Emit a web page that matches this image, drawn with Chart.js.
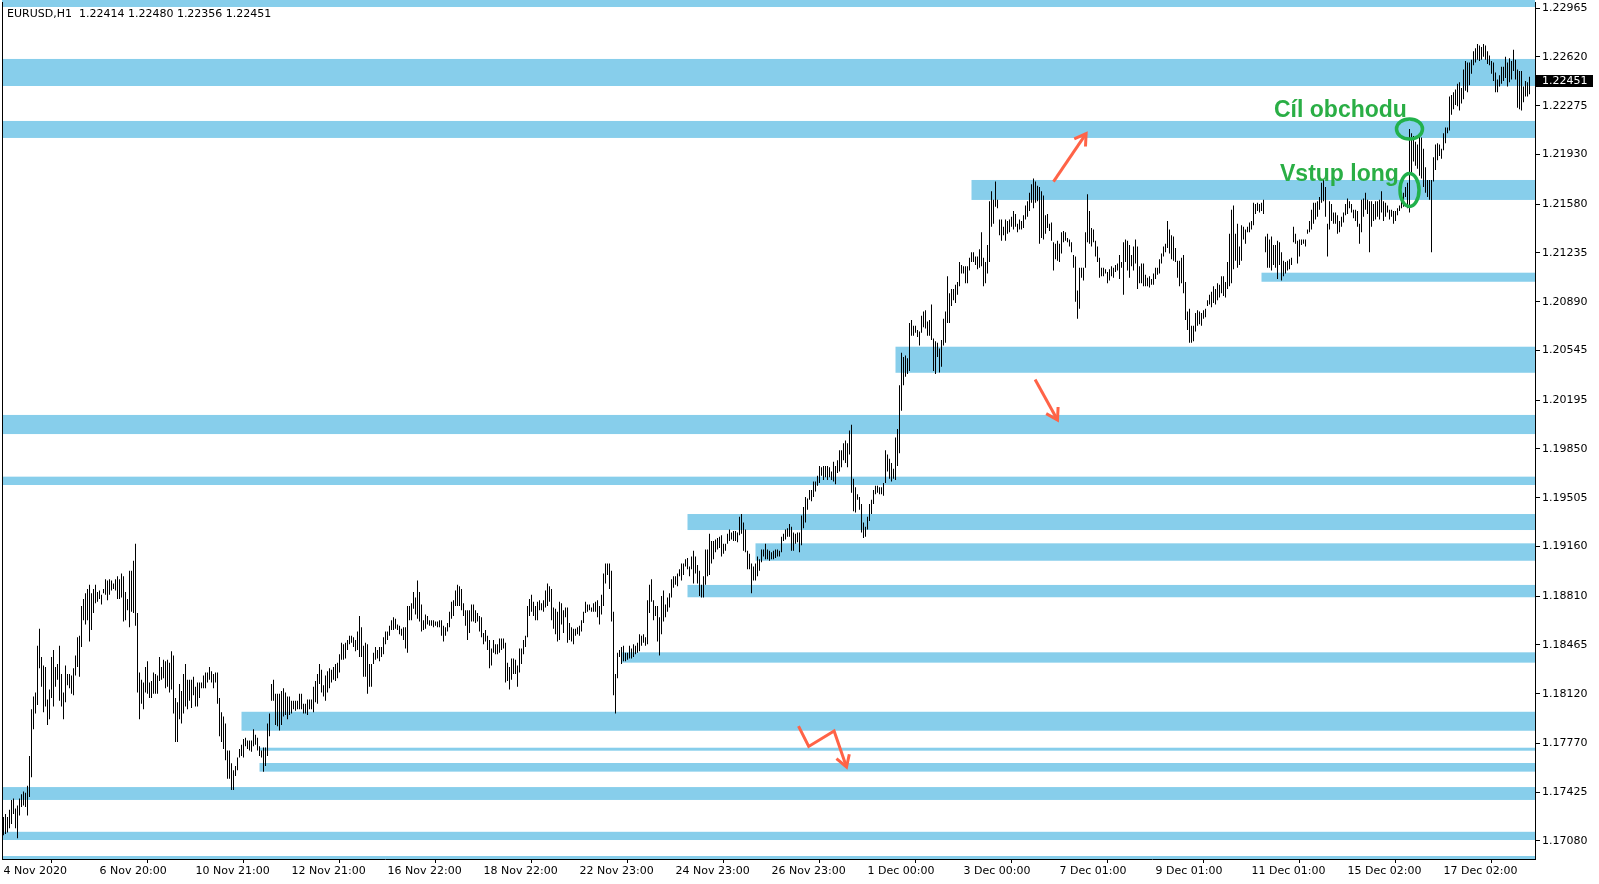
<!DOCTYPE html>
<html>
<head>
<meta charset="utf-8">
<script src="https://cdn.jsdelivr.net/npm/chart.js@4.4.1/dist/chart.umd.min.js"></script>
<style>
html, body { margin: 0; padding: 0; background: #fff; overflow: hidden; }
#wrap { width: 1599px; height: 884px; position: relative; }
</style>
</head>
<body>
<div id="wrap"><canvas id="chart"></canvas></div>
<script>
// EURUSD H1, one bar per hour, high / low
const highs = [
1.1725,1.1727,1.1725,1.1730,1.1737,1.1738,1.1731,1.1733,1.1738,1.1741,
1.1743,1.1742,1.1747,1.1768,1.1801,1.1810,1.1813,1.1846,1.1858,1.1838,
1.1832,1.1831,1.1808,1.1815,1.1838,1.1843,1.1831,1.1833,1.1846,1.1826,
1.1813,1.1832,1.1826,1.1826,1.1825,1.1830,1.1839,1.1852,1.1853,1.1874,
1.1879,1.1883,1.1886,1.1889,1.1883,1.1886,1.1889,1.1884,1.1885,1.1882,
1.1886,1.1893,1.1892,1.1893,1.1892,1.1890,1.1893,1.1895,1.1893,1.1897,
1.1895,1.1884,1.1879,1.1899,1.1899,1.1906,1.1918,1.1869,1.1827,1.1822,
1.1820,1.1831,1.1835,1.1820,1.1821,1.1827,1.1826,1.1825,1.1838,1.1831,
1.1836,1.1835,1.1836,1.1834,1.1842,1.1839,1.1809,1.1806,1.1819,1.1814,
1.1826,1.1833,1.1822,1.1822,1.1822,1.1824,1.1817,1.1820,1.1820,1.1820,
1.1825,1.1827,1.1827,1.1831,1.1828,1.1826,1.1827,1.1827,1.1809,1.1799,
1.1796,1.1791,1.1772,1.1772,1.1763,1.1758,1.1761,1.1767,1.1773,1.1776,
1.1780,1.1781,1.1779,1.1779,1.1779,1.1787,1.1783,1.1781,1.1775,1.1772,
1.1774,1.1774,1.1791,1.1798,1.1819,1.1822,1.1812,1.1812,1.1812,1.1814,
1.1816,1.1813,1.1810,1.1810,1.1807,1.1807,1.1807,1.1807,1.1812,1.1812,
1.1805,1.1805,1.1808,1.1808,1.1808,1.1817,1.1821,1.1826,1.1833,1.1829,
1.1818,1.1825,1.1828,1.1830,1.1829,1.1831,1.1833,1.1834,1.1840,1.1848,
1.1847,1.1848,1.1850,1.1853,1.1853,1.1852,1.1850,1.1856,1.1867,1.1859,
1.1846,1.1848,1.1847,1.1833,1.1833,1.1841,1.1845,1.1843,1.1845,1.1845,
1.1852,1.1856,1.1856,1.1860,1.1864,1.1866,1.1865,1.1861,1.1860,1.1858,
1.1859,1.1859,1.1874,1.1874,1.1876,1.1884,1.1880,1.1892,1.1884,1.1875,
1.1864,1.1868,1.1867,1.1864,1.1864,1.1864,1.1863,1.1863,1.1864,1.1864,
1.1860,1.1859,1.1862,1.1870,1.1877,1.1878,1.1885,1.1889,1.1888,1.1886,
1.1876,1.1871,1.1871,1.1871,1.1875,1.1875,1.1871,1.1869,1.1867,1.1866,
1.1855,1.1857,1.1853,1.1850,1.1844,1.1850,1.1847,1.1847,1.1851,1.1851,
1.1851,1.1848,1.1834,1.1831,1.1837,1.1837,1.1836,1.1832,1.1844,1.1844,
1.1850,1.1853,1.1874,1.1879,1.1882,1.1877,1.1874,1.1877,1.1878,1.1876,
1.1878,1.1885,1.1890,1.1888,1.1886,1.1873,1.1872,1.1870,1.1877,1.1876,
1.1871,1.1873,1.1873,1.1862,1.1859,1.1858,1.1858,1.1859,1.1860,1.1864,
1.1870,1.1877,1.1875,1.1875,1.1873,1.1876,1.1877,1.1878,1.1874,1.1882,
1.1897,1.1904,1.1904,1.1904,1.1899,1.1870,1.1826,1.1841,1.1843,1.1845,
1.1846,1.1841,1.1841,1.1846,1.1844,1.1847,1.1846,1.1848,1.1854,1.1853,
1.1854,1.1852,1.1878,1.1889,1.1893,1.1878,1.1874,1.1874,1.1866,1.1881,
1.1885,1.1875,1.1880,1.1883,1.1893,1.1895,1.1895,1.1897,1.1900,1.1904,
1.1904,1.1907,1.1908,1.1902,1.1909,1.1913,1.1909,1.1903,1.1899,1.1889,
1.1895,1.1914,1.1914,1.1925,1.1920,1.1920,1.1921,1.1922,1.1923,1.1924,
1.1918,1.1918,1.1925,1.1928,1.1926,1.1927,1.1927,1.1926,1.1937,1.1939,
1.1933,1.1928,1.1913,1.1911,1.1904,1.1902,1.1904,1.1909,1.1907,1.1914,
1.1914,1.1918,1.1914,1.1913,1.1912,1.1913,1.1914,1.1914,1.1913,1.1923,
1.1925,1.1928,1.1929,1.1932,1.1930,1.1926,1.1925,1.1926,1.1926,1.1938,
1.1944,1.1951,1.1950,1.1956,1.1956,1.1962,1.1962,1.1966,1.1973,1.1972,
1.1973,1.1973,1.1973,1.1972,1.1969,1.1976,1.1973,1.1977,1.1984,1.1984,
1.1989,1.1991,1.1989,1.1998,1.2002,1.1964,1.1958,1.1953,1.1951,1.1946,
1.1933,1.1930,1.1937,1.1946,1.1949,1.1956,1.1959,1.1959,1.1958,1.1958,
1.1961,1.1984,1.1981,1.1978,1.1975,1.1971,1.1993,1.1999,1.2030,1.2053,
1.2050,1.2051,1.2049,1.2074,1.2076,1.2072,1.2072,1.2069,1.2068,1.2079,
1.2082,1.2083,1.2075,1.2076,1.2087,1.2063,1.2061,1.2060,1.2056,1.2062,
1.2077,1.2082,1.2107,1.2095,1.2098,1.2098,1.2101,1.2103,1.2117,1.2115,
1.2114,1.2114,1.2114,1.2120,1.2124,1.2124,1.2121,1.2121,1.2126,1.2138,
1.2120,1.2117,1.2129,1.2160,1.2167,1.2161,1.2174,1.2161,1.2147,1.2147,
1.2142,1.2147,1.2146,1.2147,1.2149,1.2153,1.2151,1.2144,1.2147,1.2146,
1.2150,1.2157,1.2160,1.2166,1.2172,1.2176,1.2174,1.2171,1.2170,1.2167,
1.2164,1.2150,1.2151,1.2144,1.2145,1.2131,1.2130,1.2132,1.2130,1.2138,
1.2139,1.2138,1.2134,1.2133,1.2131,1.2122,1.2121,1.2097,1.2113,1.2113,
1.2113,1.2138,1.2165,1.2153,1.2141,1.2140,1.2132,1.2128,1.2120,1.2113,
1.2113,1.2112,1.2110,1.2112,1.2114,1.2113,1.2115,1.2116,1.2122,1.2117,
1.2131,1.2133,1.2132,1.2129,1.2122,1.2128,1.2133,1.2128,1.2114,1.2116,
1.2116,1.2108,1.2106,1.2107,1.2105,1.2109,1.2113,1.2113,1.2119,1.2123,
1.2128,1.2130,1.2146,1.2140,1.2136,1.2135,1.2127,1.2118,1.2118,1.2120,
1.2122,1.2103,1.2082,1.2084,1.2072,1.2072,1.2081,1.2083,1.2082,1.2081,
1.2083,1.2084,1.2090,1.2094,1.2096,1.2100,1.2098,1.2102,1.2101,1.2107,
1.2107,1.2103,1.2117,1.2137,1.2154,1.2157,1.2137,1.2144,1.2128,1.2143,
1.2142,1.2140,1.2142,1.2145,1.2146,1.2159,1.2158,1.2159,1.2158,1.2159,
1.2161,1.2135,1.2137,1.2133,1.2135,1.2129,1.2129,1.2132,1.2131,1.2124,
1.2118,1.2117,1.2118,1.2119,1.2120,1.2142,1.2137,1.2132,1.2133,1.2133,
1.2133,1.2133,1.2140,1.2146,1.2154,1.2159,1.2159,1.2160,1.2163,1.2173,
1.2175,1.2170,1.2144,1.2160,1.2158,1.2152,1.2152,1.2150,1.2146,1.2149,
1.2152,1.2158,1.2162,1.2160,1.2158,1.2154,1.2154,1.2153,1.2144,1.2161,
1.2162,1.2166,1.2161,1.2160,1.2160,1.2158,1.2160,1.2160,1.2161,1.2167,
1.2160,1.2159,1.2157,1.2154,1.2154,1.2153,1.2153,1.2155,1.2157,1.2162,
1.2166,1.2170,1.2173,1.2211,1.2208,1.2206,1.2202,1.2200,1.2207,1.2205,
1.2197,1.2184,1.2175,1.2175,1.2175,1.2191,1.2200,1.2201,1.2200,1.2197,
1.2208,1.2212,1.2212,1.2234,1.2235,1.2237,1.2239,1.2243,1.2244,1.2240,
1.2253,1.2259,1.2258,1.2258,1.2260,1.2266,1.2268,1.2271,1.2270,1.2269,
1.2271,1.2270,1.2266,1.2263,1.2259,1.2258,1.2251,1.2246,1.2249,1.2255,
1.2255,1.2262,1.2258,1.2261,1.2259,1.2267,1.2260,1.2253,1.2252,1.2252,
1.2241,1.2245,1.2244,1.22480
];
const lows = [
1.1712,1.1713,1.1714,1.1717,1.1720,1.1727,1.1717,1.1710,1.1726,1.1732,
1.1733,1.1732,1.1726,1.1739,1.1753,1.1787,1.1798,1.1804,1.1830,1.1817,
1.1799,1.1803,1.1790,1.1794,1.1809,1.1803,1.1817,1.1822,1.1807,1.1803,
1.1794,1.1806,1.1818,1.1816,1.1812,1.1811,1.1825,1.1831,1.1824,1.1845,
1.1864,1.1861,1.1864,1.1849,1.1857,1.1869,1.1876,1.1877,1.1879,1.1875,
1.1883,1.1882,1.1878,1.1882,1.1885,1.1886,1.1885,1.1879,1.1879,1.1880,
1.1863,1.1864,1.1871,1.1859,1.1870,1.1869,1.1860,1.1813,1.1794,1.1805,
1.1801,1.1813,1.1812,1.1809,1.1809,1.1812,1.1812,1.1812,1.1821,1.1822,
1.1823,1.1816,1.1817,1.1813,1.1815,1.1798,1.1778,1.1778,1.1794,1.1791,
1.1798,1.1803,1.1801,1.1807,1.1802,1.1811,1.1803,1.1803,1.1809,1.1816,
1.1816,1.1816,1.1820,1.1822,1.1820,1.1816,1.1820,1.1805,1.1782,1.1778,
1.1773,1.1765,1.1752,1.1752,1.1744,1.1744,1.1754,1.1758,1.1767,1.1768,
1.1767,1.1775,1.1773,1.1772,1.1771,1.1775,1.1776,1.1772,1.1768,1.1767,
1.1757,1.1761,1.1768,1.1782,1.1807,1.1807,1.1790,1.1789,1.1786,1.1790,
1.1796,1.1797,1.1794,1.1797,1.1798,1.1801,1.1800,1.1801,1.1801,1.1801,
1.1798,1.1798,1.1797,1.1801,1.1801,1.1799,1.1806,1.1805,1.1819,1.1813,
1.1810,1.1807,1.1813,1.1816,1.1820,1.1822,1.1821,1.1823,1.1827,1.1836,
1.1836,1.1837,1.1843,1.1847,1.1848,1.1845,1.1842,1.1843,1.1838,1.1838,
1.1824,1.1824,1.1812,1.1817,1.1817,1.1833,1.1836,1.1837,1.1835,1.1838,
1.1840,1.1847,1.1850,1.1853,1.1857,1.1857,1.1858,1.1857,1.1854,1.1853,
1.1850,1.1844,1.1841,1.1864,1.1864,1.1872,1.1868,1.1865,1.1863,1.1856,
1.1857,1.1858,1.1861,1.1860,1.1860,1.1859,1.1860,1.1859,1.1859,1.1853,
1.1849,1.1853,1.1856,1.1859,1.1865,1.1867,1.1874,1.1874,1.1874,1.1871,
1.1867,1.1860,1.1850,1.1855,1.1863,1.1863,1.1862,1.1863,1.1856,1.1852,
1.1847,1.1849,1.1843,1.1830,1.1832,1.1841,1.1840,1.1840,1.1841,1.1843,
1.1844,1.1820,1.1821,1.1815,1.1822,1.1826,1.1826,1.1817,1.1827,1.1833,
1.1840,1.1845,1.1852,1.1867,1.1870,1.1867,1.1864,1.1864,1.1871,1.1871,
1.1870,1.1873,1.1874,1.1877,1.1864,1.1858,1.1854,1.1849,1.1850,1.1861,
1.1855,1.1866,1.1848,1.1850,1.1849,1.1847,1.1853,1.1854,1.1853,1.1856,
1.1862,1.1869,1.1870,1.1871,1.1870,1.1870,1.1870,1.1866,1.1861,1.1868,
1.1874,1.1890,1.1896,1.1886,1.1863,1.1811,1.1798,1.1823,1.1838,1.1833,
1.1835,1.1835,1.1836,1.1837,1.1837,1.1838,1.1840,1.1841,1.1842,1.1846,
1.1848,1.1846,1.1847,1.1869,1.1877,1.1864,1.1867,1.1849,1.1839,1.1854,
1.1863,1.1866,1.1870,1.1873,1.1880,1.1887,1.1889,1.1888,1.1895,1.1892,
1.1896,1.1902,1.1900,1.1895,1.1900,1.1890,1.1897,1.1890,1.1881,1.1880,
1.1880,1.1889,1.1895,1.1896,1.1904,1.1907,1.1912,1.1914,1.1915,1.1909,
1.1911,1.1913,1.1918,1.1920,1.1921,1.1920,1.1920,1.1919,1.1924,1.1925,
1.1913,1.1912,1.1900,1.1900,1.1883,1.1892,1.1892,1.1895,1.1899,1.1905,
1.1909,1.1907,1.1907,1.1906,1.1907,1.1907,1.1908,1.1909,1.1909,1.1912,
1.1920,1.1921,1.1923,1.1923,1.1913,1.1913,1.1918,1.1919,1.1912,1.1917,
1.1929,1.1933,1.1942,1.1949,1.1948,1.1951,1.1955,1.1959,1.1961,1.1966,
1.1963,1.1965,1.1963,1.1965,1.1963,1.1962,1.1960,1.1968,1.1969,1.1972,
1.1977,1.1975,1.1972,1.1981,1.1954,1.1941,1.1940,1.1949,1.1942,1.1926,
1.1922,1.1923,1.1928,1.1934,1.1939,1.1946,1.1953,1.1954,1.1953,1.1953,
1.1952,1.1961,1.1969,1.1964,1.1962,1.1964,1.1963,1.1973,1.1982,1.2012,
1.2030,1.2036,1.2038,1.2040,1.2065,1.2065,1.2067,1.2064,1.2058,1.2067,
1.2071,1.2070,1.2065,1.2065,1.2062,1.2040,1.2038,1.2050,1.2039,1.2043,
1.2058,1.2060,1.2074,1.2074,1.2086,1.2090,1.2088,1.2094,1.2100,1.2109,
1.2109,1.2102,1.2102,1.2111,1.2117,1.2117,1.2115,1.2112,1.2113,1.2114,
1.2100,1.2102,1.2109,1.2117,1.2142,1.2144,1.2156,1.2155,1.2136,1.2132,
1.2136,1.2132,1.2137,1.2138,1.2142,1.2140,1.2142,1.2138,1.2140,1.2140,
1.2141,1.2147,1.2149,1.2153,1.2159,1.2155,1.2159,1.2160,1.2130,1.2134,
1.2133,1.2137,1.2141,1.2139,1.2132,1.2111,1.2119,1.2118,1.2117,1.2123,
1.2131,1.2132,1.2131,1.2128,1.2124,1.2113,1.2089,1.2077,1.2084,1.2106,
1.2104,1.2113,1.2131,1.2130,1.2128,1.2131,1.2121,1.2117,1.2106,1.2107,
1.2107,1.2109,1.2102,1.2104,1.2107,1.2106,1.2110,1.2111,1.2105,1.2113,
1.2094,1.2117,1.2111,1.2106,1.2114,1.2111,1.2116,1.2098,1.2102,1.2102,
1.2100,1.2100,1.2100,1.2099,1.2101,1.2101,1.2105,1.2108,1.2109,1.2116,
1.2121,1.2124,1.2127,1.2123,1.2119,1.2118,1.2117,1.2106,1.2100,1.2102,
1.2095,1.2076,1.2069,1.2060,1.2060,1.2061,1.2068,1.2072,1.2073,1.2072,
1.2077,1.2078,1.2086,1.2087,1.2085,1.2088,1.2087,1.2090,1.2092,1.2095,
1.2093,1.2092,1.2098,1.2100,1.2102,1.2112,1.2118,1.2113,1.2115,1.2118,
1.2133,1.2130,1.2138,1.2138,1.2140,1.2143,1.2151,1.2153,1.2152,1.2153,
1.2151,1.2124,1.2113,1.2113,1.2111,1.2115,1.2113,1.2105,1.2115,1.2104,
1.2107,1.2109,1.2111,1.2112,1.2115,1.2131,1.2130,1.2116,1.2121,1.2129,
1.2130,1.2128,1.2137,1.2138,1.2140,1.2144,1.2147,1.2149,1.2154,1.2159,
1.2160,1.2149,1.2121,1.2140,1.2146,1.2144,1.2144,1.2137,1.2138,1.2142,
1.2145,1.2150,1.2151,1.2155,1.2152,1.2148,1.2146,1.2142,1.2130,1.2138,
1.2149,1.2154,1.2151,1.2124,1.2142,1.2146,1.2147,1.2149,1.2147,1.2152,
1.2146,1.2149,1.2152,1.2147,1.2149,1.2144,1.2146,1.2150,1.2153,1.2155,
1.2156,1.2163,1.2155,1.2152,1.2180,1.2188,1.2185,1.2183,1.2178,1.2176,
1.2170,1.2166,1.2163,1.2161,1.2124,1.2174,1.2182,1.2189,1.2192,1.2190,
1.2196,1.2201,1.2208,1.2210,1.2221,1.2225,1.2228,1.2227,1.2224,1.2229,
1.2232,1.2238,1.2237,1.2242,1.2250,1.2256,1.2258,1.2260,1.2259,1.2260,
1.2262,1.2260,1.2257,1.2256,1.2250,1.2245,1.2237,1.2237,1.2241,1.2243,
1.2245,1.2247,1.2241,1.2244,1.2246,1.2252,1.2246,1.2226,1.2225,1.2224,
1.2230,1.2234,1.2234,1.22356
];

// last bar as printed in the header
const symbol = 'EURUSD,H1';
const lastOpen = 1.22414, lastHigh = 1.22480, lastLow = 1.22356, lastClose = 1.22451;

// time axis labels, one every 48 bars
const tickBars = [0,48,96,144,192,240,288,336,384,432,480,528,576,624,672,720];
const tickLabels = ['4 Nov 2020','6 Nov 20:00','10 Nov 21:00','12 Nov 21:00','16 Nov 22:00',
  '18 Nov 22:00','22 Nov 23:00','24 Nov 23:00','26 Nov 23:00','1 Dec 00:00','3 Dec 00:00',
  '7 Dec 01:00','9 Dec 01:00','11 Dec 01:00','15 Dec 02:00','17 Dec 02:00'];

// price axis labels
const priceTicks = [1.22965,1.22620,1.22275,1.21930,1.21580,1.21235,1.20890,1.20545,1.20195,
  1.19850,1.19505,1.19160,1.18810,1.18465,1.18120,1.17770,1.17425,1.17080];

// support / resistance zones: top price, bottom price, first bar (null = whole chart)
const zoneTop    = [1.23030,1.22605,1.22167,1.21750,1.21095,1.20572,1.20090,1.19654,1.19390,1.19183,1.18889,1.18413,1.17993,1.17739,1.17631,1.17461,1.17145,1.16974];
const zoneBottom = [1.22972,1.22414,1.22047,1.21609,1.21031,1.20388,1.19955,1.19595,1.19277,1.19060,1.18802,1.18340,1.17859,1.17718,1.17570,1.17370,1.17087,1.16900];
const zoneStart  = [null,null,null,484,629,446,null,null,342,376,342,309,119,128,128,null,null,null];

// hand drawn arrows: [bar, price] points, head at the last one
const arrows = [
  [[525, 1.21739], [541.3, 1.22078]],
  [[515.8, 1.20341], [527, 1.20054]],
  [[397.5, 1.17892], [402.6, 1.17748], [415.3, 1.17857], [421.5, 1.17603]]
];

// trade notes
const notes = [
  { text: 'Cíl obchodu', bar: 635.25, price: 1.22195 },
  { text: 'Vstup long', bar: 638.25, price: 1.21743 }
];
const rings = [
  { bar: 703, price: 1.22110, rx: 13, ry: 10 },
  { bar: 703, price: 1.21679, rx: 9.5, ry: 16.5 }
];

const FONT = 'DejaVu Sans';
Chart.defaults.font.family = FONT;
Chart.defaults.font.size = 11;
Chart.defaults.color = '#000';

const zonesPlugin = {
  id: 'zones',
  beforeDatasetsDraw(chart) {
    const { ctx, chartArea: a, scales: { x, y } } = chart;
    ctx.save();
    ctx.beginPath();
    ctx.rect(a.left, 0, a.right - a.left, a.bottom);
    ctx.clip();
    ctx.fillStyle = '#87ceeb';
    for (let k = 0; k < zoneTop.length; k++) {
      const x0 = zoneStart[k] === null ? a.left : x.getPixelForValue(zoneStart[k]);
      const y0 = y.getPixelForValue(zoneTop[k]);
      const y1 = y.getPixelForValue(zoneBottom[k]);
      ctx.fillRect(x0, y0, a.right - x0, y1 - y0);
    }
    ctx.restore();
  }
};

const marksPlugin = {
  id: 'marks',
  afterDatasetsDraw(chart) {
    const { ctx, scales: { x, y } } = chart;
    ctx.save();
    // arrows
    ctx.strokeStyle = '#ff6347';
    ctx.lineWidth = 3;
    ctx.lineJoin = 'miter';
    arrows.forEach(pts => {
      const p = pts.map(q => [x.getPixelForValue(q[0]), y.getPixelForValue(q[1])]);
      ctx.beginPath();
      ctx.moveTo(p[0][0], p[0][1]);
      for (let i = 1; i < p.length; i++) ctx.lineTo(p[i][0], p[i][1]);
      ctx.stroke();
      const a = p[p.length - 1], b = p[p.length - 2];
      const ang = Math.atan2(a[1] - b[1], a[0] - b[0]);
      ctx.beginPath();
      ctx.moveTo(a[0] - 13 * Math.cos(ang - 0.55), a[1] - 13 * Math.sin(ang - 0.55));
      ctx.lineTo(a[0], a[1]);
      ctx.lineTo(a[0] - 13 * Math.cos(ang + 0.55), a[1] - 13 * Math.sin(ang + 0.55));
      ctx.stroke();
    });
    // green rings
    ctx.strokeStyle = '#22b14c';
    ctx.lineWidth = 3.5;
    rings.forEach(r => {
      ctx.beginPath();
      ctx.ellipse(x.getPixelForValue(r.bar), y.getPixelForValue(r.price), r.rx, r.ry, 0, 0, Math.PI * 2);
      ctx.stroke();
    });
    // notes
    ctx.fillStyle = '#2aae45';
    ctx.font = 'bold 23px "Liberation Sans", Arial, sans-serif';
    ctx.textBaseline = 'alphabetic';
    ctx.textAlign = 'left';
    notes.forEach(n => ctx.fillText(n.text, x.getPixelForValue(n.bar), y.getPixelForValue(n.price)));
    ctx.restore();
  },
  afterDraw(chart) {
    const { ctx, chartArea: a, scales: { y } } = chart;
    ctx.save();
    // left frame line
    ctx.fillStyle = '#000';
    ctx.fillRect(a.left, a.top, 1, a.bottom - a.top);
    // header
    ctx.font = '11px "' + FONT + '"';
    ctx.textBaseline = 'alphabetic';
    ctx.fillText(symbol + '  ' + [lastOpen, lastHigh, lastLow, lastClose].map(v => v.toFixed(5)).join(' '), 7, 17);
    // current price tag
    const yc = Math.round(y.getPixelForValue(lastClose));
    ctx.fillStyle = '#000';
    ctx.fillRect(a.right + 1, yc - 6, 57, 12);
    ctx.fillStyle = '#fff';
    ctx.textBaseline = 'middle';
    ctx.fillText(lastClose.toFixed(5), a.right + 7, yc + 0.5);
    ctx.restore();
  }
};

new Chart(document.getElementById('chart'), {
  type: 'bar',
  data: {
    datasets: [{
      data: highs.map((h, i) => ({ x: i, y: [lows[i], h] })),
      backgroundColor: '#000',
      borderWidth: 0,
      barThickness: 1,
      inflateAmount: 0
    }]
  },
  options: {
    responsive: true,
    maintainAspectRatio: false,
    animation: false,
    events: [],
    layout: { padding: { left: 2, top: 2, right: 0, bottom: 0 } },
    plugins: { legend: { display: false }, tooltip: { enabled: false } },
    scales: {
      x: {
        type: 'linear',
        min: -0.75,
        max: 765.75,
        offset: false,
        afterBuildTicks(s) { s.ticks = tickBars.map(v => ({ value: v })); },
        afterFit(s) { s.height = 25; s.paddingLeft = 0; s.paddingRight = 0; },
        ticks: {
          autoSkip: false, maxRotation: 0, minRotation: 0, align: 'start', padding: 2,
          color: '#000', font: { family: FONT, size: 11 },
          callback: (v, i) => tickLabels[i]
        },
        grid: { drawOnChartArea: false, drawTicks: true, tickLength: 4, color: '#000', tickColor: '#000' },
        border: { display: true, color: '#000', width: 1 }
      },
      y: {
        type: 'linear',
        position: 'right',
        min: 1.1695283,
        max: 1.2300739,
        afterBuildTicks(s) { s.ticks = priceTicks.map(v => ({ value: v })); },
        afterFit(s) { s.width = 64; s.paddingTop = 0; s.paddingBottom = 0; },
        ticks: {
          autoSkip: false, padding: 2, color: '#000', font: { family: FONT, size: 11 },
          callback: v => v.toFixed(5)
        },
        grid: { drawOnChartArea: false, drawTicks: true, tickLength: 5, color: '#000', tickColor: '#000' },
        border: { display: true, color: '#000', width: 1 }
      }
    }
  },
  plugins: [zonesPlugin, marksPlugin]
});
</script>
</body>
</html>
